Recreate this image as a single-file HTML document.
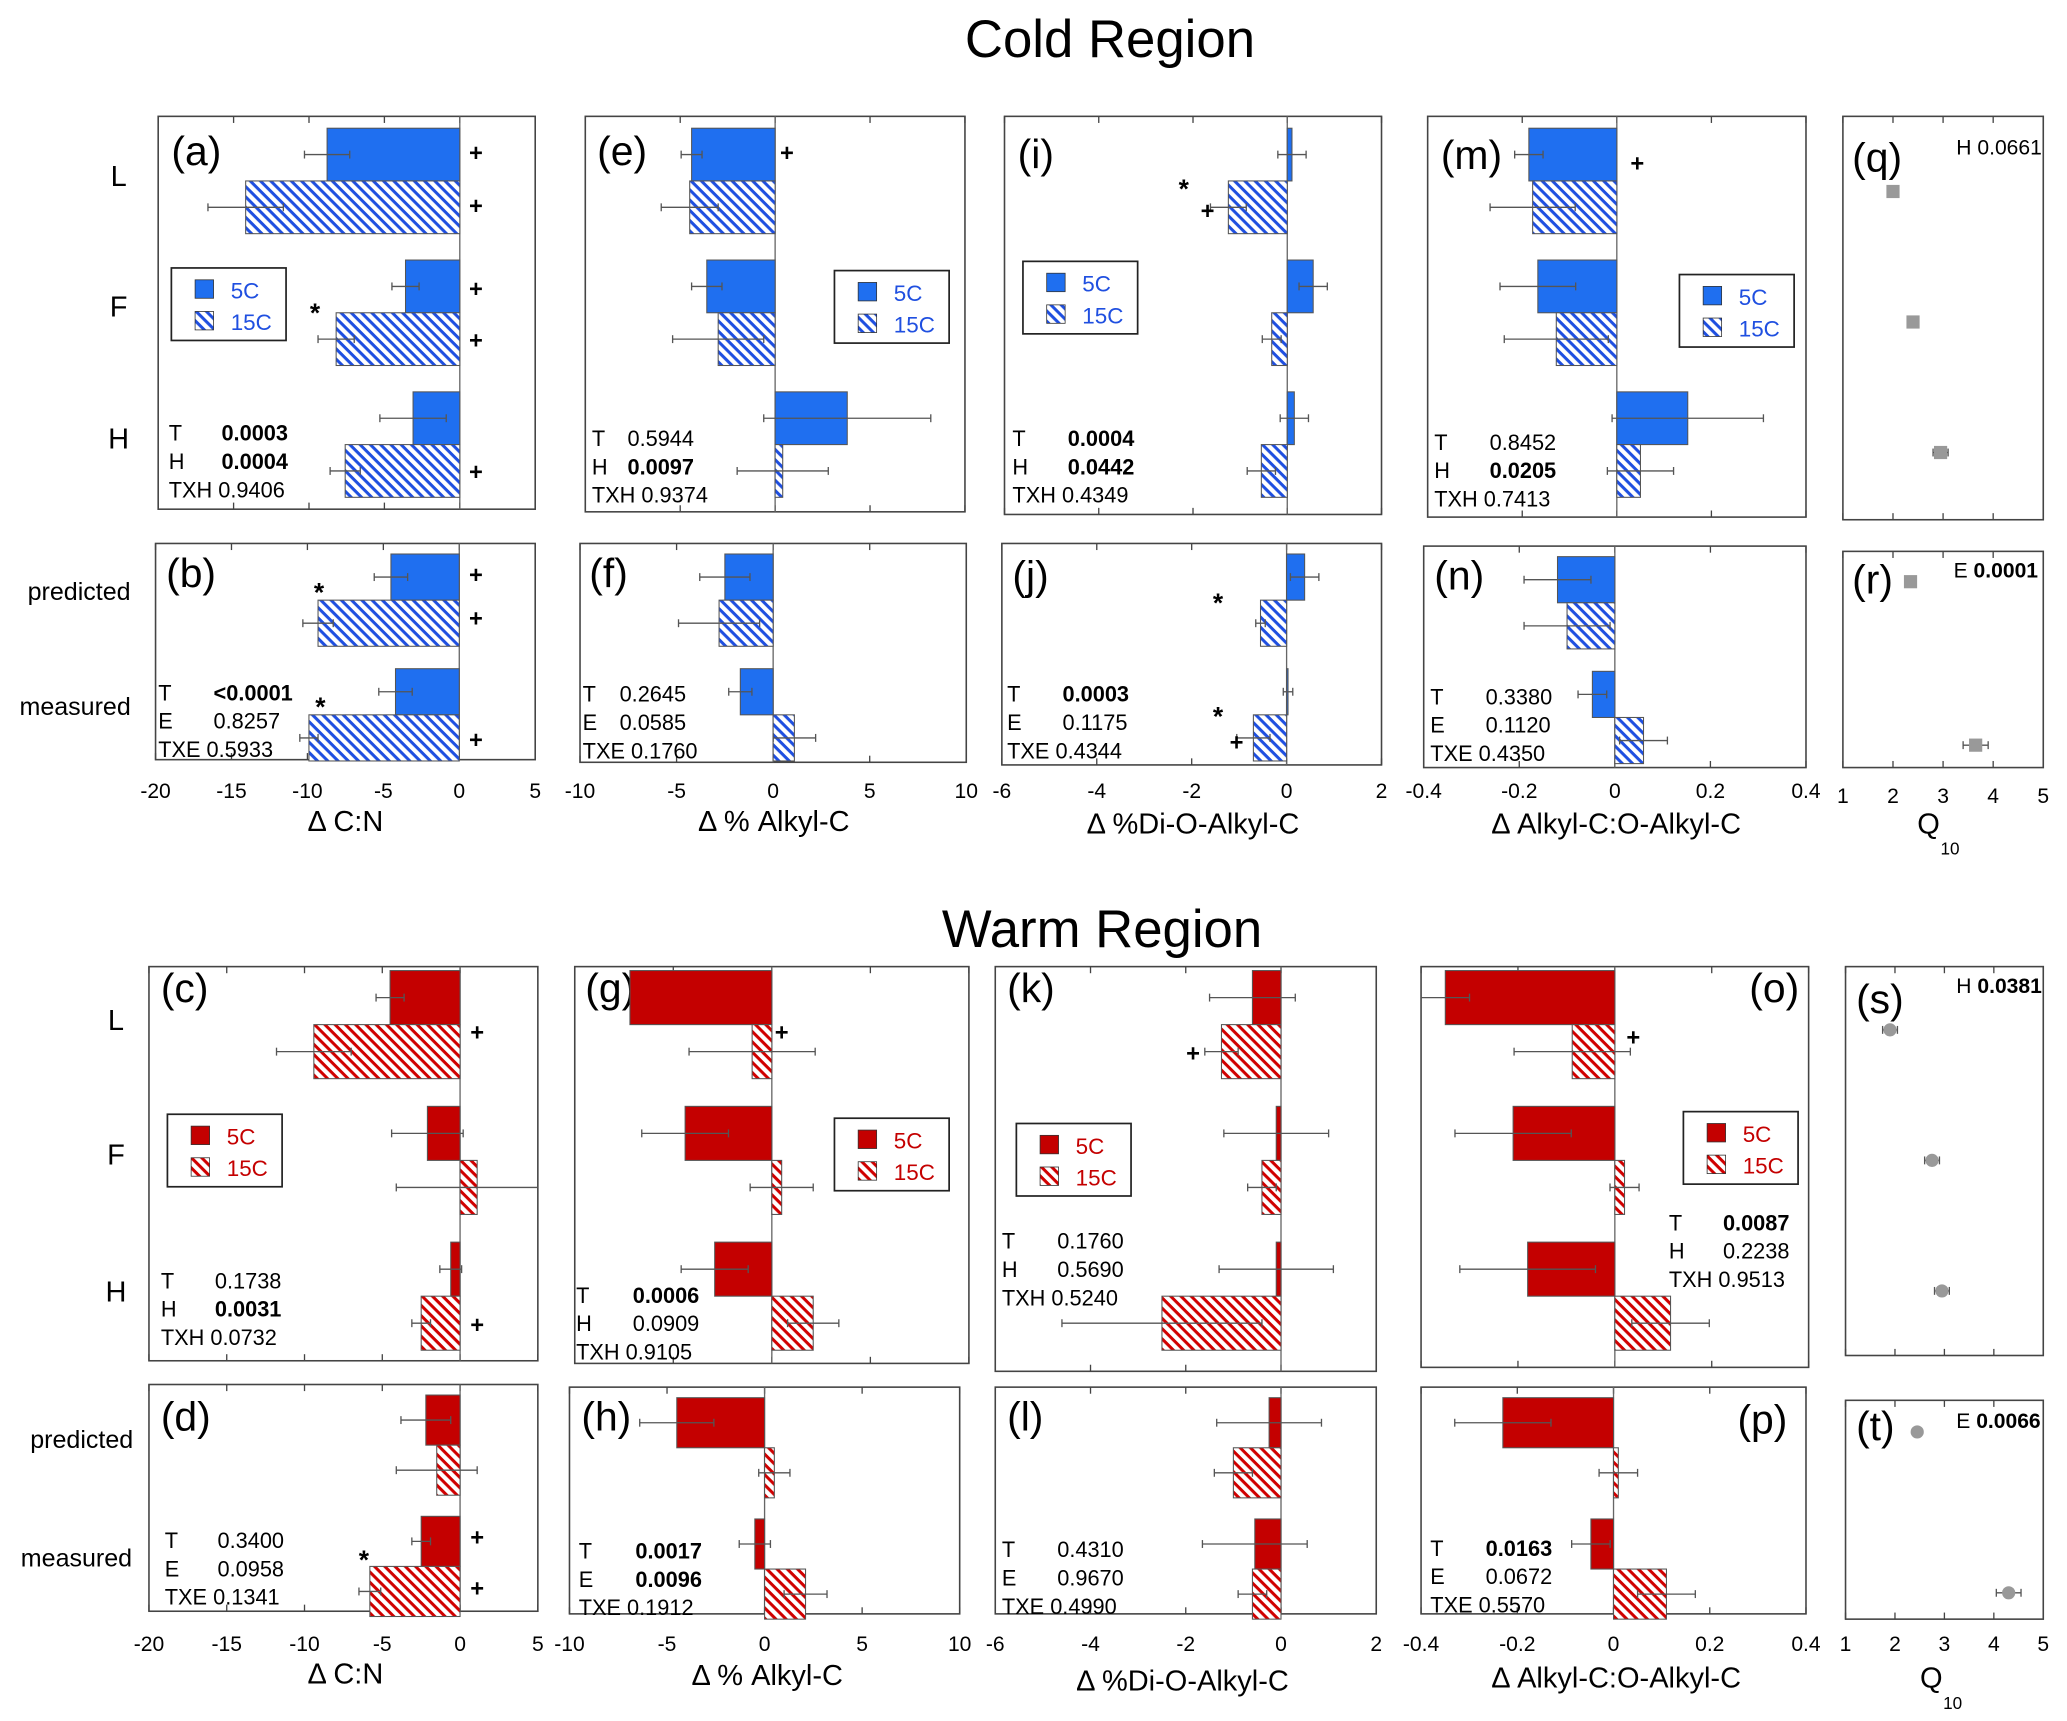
<!DOCTYPE html>
<html><head><meta charset="utf-8"><style>
html,body{margin:0;padding:0;background:#fff}
svg{display:block;font-family:"Liberation Sans",Arial,sans-serif}
</style></head><body>
<svg id="fig" xmlns="http://www.w3.org/2000/svg" width="2067" height="1721" viewBox="0 0 1568 1305">
<defs>
<pattern id="hb" patternUnits="userSpaceOnUse" width="5.5" height="5.5" patternTransform="rotate(45)"><rect width="5.5" height="5.5" fill="#fff"/><rect x="0" y="0" width="5.5" height="2.3" fill="#1f4fe0"/></pattern>
<pattern id="hr" patternUnits="userSpaceOnUse" width="5.5" height="5.5" patternTransform="rotate(45)"><rect width="5.5" height="5.5" fill="#fff"/><rect x="0" y="0" width="5.5" height="2.3" fill="#d00000"/></pattern>
</defs>
<text x="842" y="43" font-size="40" text-anchor="middle">Cold Region</text>
<text x="836" y="718" font-size="40" text-anchor="middle">Warm Region</text>
<g id="root"></g>
</svg>
<script>
// ---- data ----
const topCats = ["L","F","H"];
const botCats = ["predicted","measured"];
// cold
const a5 = [-8.8,-3.6,-3.1], a5e=[1.5,0.9,2.2], a15=[-14.2,-8.2,-7.6], a15e=[2.5,1.2,1.0];
const b5 = [-4.5,-4.2], b5e=[1.1,1.1], b15=[-9.3,-9.9], b15e=[1.0,0.6];
const e5 = [-4.4,-3.6,3.8], e5e=[0.55,0.8,4.4], e15=[-4.5,-3.0,0.4], e15e=[1.5,2.4,2.4];
const f5 = [-2.5,-1.7], f5e=[1.3,0.6], f15=[-2.8,1.1], f15e=[2.1,1.1];
const i5 = [0.1,0.55,0.15], i5e=[0.3,0.3,0.3], i15=[-1.25,-0.33,-0.55], i15e=[0.38,0.2,0.3];
const j5 = [0.38,0.03], j5e=[0.3,0.1], j15=[-0.55,-0.7], j15e=[0.1,0.35];
const m5 = [-0.186,-0.167,0.15], m5e=[0.03,0.08,0.16], m15=[-0.178,-0.128,0.05], m15e=[0.09,0.11,0.07];
const n5 = [-0.12,-0.047], n5e=[0.07,0.03], n15=[-0.1,0.06], n15e=[0.09,0.05];
const qVals=[2.0,2.4,2.95], qErr=[0.05,0.05,0.15];
const rVals=[2.35,3.65], rErr=[0.05,0.25];
// warm
const c5 = [-4.5,-2.1,-0.6], c5e=[0.9,2.3,0.7], c15=[-9.4,1.1,-2.5], c15e=[2.4,5.2,0.6];
const d5 = [-2.2,-2.5], d5e=[1.6,0.6], d15=[-1.5,-5.8], d15e=[2.6,0.7];
const g5 = [-7.2,-4.4,-2.9], g5e=[0,2.2,1.7], g15=[-1.0,0.5,2.1], g15e=[3.2,1.6,1.3];
const h5 = [-4.5,-0.5], h5e=[1.9,0.8], h15=[0.5,2.1], h15e=[0.8,1.1];
const k5 = [-0.6,-0.1,-0.1], k5e=[0.9,1.1,1.2], k15=[-1.25,-0.4,-2.5], k15e=[0.35,0.3,2.1];
const l5 = [-0.25,-0.55], l5e=[1.1,1.1], l15=[-1.0,-0.6], l15e=[0.4,0.3];
const o5 = [-0.35,-0.21,-0.18], o5e=[0.05,0.12,0.14], o15=[-0.088,0.02,0.115], o15e=[0.12,0.03,0.08];
const p5 = [-0.23,-0.047], p5e=[0.1,0.04], p15=[0.01,0.11], p15e=[0.04,0.06];
const sVals=[1.9,2.75,2.95], sErr=[0.15,0.15,0.15];
const tVals=[2.45,4.3], tErr=[0,0.25];
const ticksCN=[-20,-15,-10,-5,0,5], ticksAlk=[-10,-5,0,5,10], ticksDi=[-6,-4,-2,0,2], ticksRat=[-0.4,-0.2,0,0.2,0.4], ticksQ=[1,2,3,4,5];

const NS="http://www.w3.org/2000/svg";
const root=document.getElementById('root');
function mk(tag,attrs,parent){const e=document.createElementNS(NS,tag);for(const k in attrs)e.setAttribute(k,attrs[k]);(parent||root).appendChild(e);return e;}
function txt(s,x,y,size,opts,parent){opts=opts||{};const t=mk('text',{x:x,y:y,'font-size':size,fill:opts.fill||'#000','text-anchor':opts.anchor||'start','font-weight':opts.bold?'bold':'normal'},parent);t.textContent=s;return t;}

function panel(cfg){
  const g=mk('g',{});
  
  
  const L=cfg.box[0],R=cfg.box[1],T=cfg.box[2],B=cfg.box[3];
  const d0=cfg.dom[0],d1=cfg.dom[1];
  const xs=v=>L+(v-d0)/(d1-d0)*(R-L);
  const frame=mk('rect',{x:L,y:T,width:R-L,height:B-T,fill:'none',stroke:'#444','stroke-width':1.2},g);
  
  
  cfg.ticks.forEach(tv=>{const x=xs(tv);mk('line',{x1:x,x2:x,y1:T,y2:T+5,stroke:'#444'},g);mk('line',{x1:x,x2:x,y1:B,y2:B-5,stroke:'#444'},g);});
  if(!cfg.points) mk('line',{x1:xs(0),x2:xs(0),y1:T,y2:B,stroke:'#666','stroke-width':1},g);
  const lab=txt('('+cfg.id+')',cfg.lab[0],cfg.lab[1],31,{},g);
  
  
  const col=cfg.warm?'#c40000':'#1f6ff0', hat=cfg.warm?'url(#hr)':'url(#hb)';
  if(cfg.points){
    cfg.points.forEach((v,i)=>{
      const y=cfg.py[i],x=xs(v),e=cfg.perr[i];
      if(e>0){mk('line',{x1:xs(v-e),x2:xs(v+e),y1:y,y2:y,stroke:'#555'},g);[v-e,v+e].forEach(w=>mk('line',{x1:xs(w),x2:xs(w),y1:y-3,y2:y+3,stroke:'#555'},g));}
      let m;
      if(cfg.warm){m=mk('circle',{cx:x,cy:y,r:5,fill:'#999'},g);}
      else{m=mk('rect',{x:x-5,y:y-5,width:10,height:10,fill:'#999'},g);}
      
      
    });
  } else {
    const n=cfg.v5.length;
    for(let i=0;i<n;i++){
      [[cfg.v5,cfg.e5,col,0],[cfg.v15,cfg.e15,hat,1]].forEach(([vals,errs,fill,k])=>{
        const v=vals[i];const y=T+cfg.off+i*cfg.band+k*cfg.bh;
        const x0=Math.min(xs(0),xs(v)),w=Math.abs(xs(v)-xs(0));
        const r=mk('rect',{x:x0,y:y,width:w,height:cfg.bh,fill:fill,stroke:'#555','stroke-width':0.8},g);
        
        
        const e=errs[i];
        if(e>0){const cy=y+cfg.bh/2;const xa=Math.max(L,xs(v-e)),xb=Math.min(R,xs(v+e));
          mk('line',{x1:xa,x2:xb,y1:cy,y2:cy,stroke:'#555'},g);
          [v-e,v+e].forEach(w=>{const xx=xs(w);if(xx>=L&&xx<=R)mk('line',{x1:xx,x2:xx,y1:cy-3,y2:cy+3,stroke:'#555'},g);});}
      });
    }
  }
  if(cfg.tickLabels){cfg.ticks.forEach(tv=>{const t=txt(String(tv),xs(tv),cfg.tickY,16,{anchor:'middle'},g);});}
  if(cfg.stats){
    const s=cfg.stats;
    s.rows.forEach((r,i)=>{const y=s.y+i*21.5;
      if(i<2){txt(r[0],s.x,y,16.5,{},g);txt(r[1],s.vx,y,16.5,{bold:r[2]},g);}
      else txt(r[0]+' '+r[1],s.x,y,16.5,{},g);});
  }
  (cfg.ann||[]).forEach(a=>{const t=txt(a[0],a[1],a[2],a[0]=='*'?20:18,{anchor:'middle',bold:true},g);});
  if(cfg.leg){const [lx,ly]=cfg.leg;
    const lg=mk('g',{},g);
    
    
    mk('rect',{x:lx,y:ly,width:87,height:55,fill:'#fff',stroke:'#222','stroke-width':1.3},lg);
    mk('rect',{x:lx+18,y:ly+9,width:14,height:14,fill:col,stroke:'#333','stroke-width':0.6},lg);
    mk('rect',{x:lx+18,y:ly+33,width:14,height:14,fill:hat,stroke:'#333','stroke-width':0.6},lg);
    const tc=cfg.warm?'#c40000':'#1f4fe0';
    txt('5C',lx+45,ly+23,17,{fill:tc},lg);txt('15C',lx+45,ly+47,17,{fill:tc},lg);
  }
  if(cfg.qtext){const q=cfg.qtext;const t=mk('text',{x:q[0],y:q[1],'font-size':16},g);
    const s1=mk('tspan',{},t);s1.textContent=q[2]+' ';const s2=mk('tspan',{'font-weight':q[4]?'bold':'normal'},t);s2.textContent=q[3];}
}
const ct={off:9,band:100,bh:40,cats:topCats}, cb={off:8,band:87,bh:35,cats:botCats};
const wt={off:3,band:103,bh:41,cats:topCats,warm:true}, wb={off:8,band:92,bh:38,cats:botCats,warm:true};
function P(base,o){panel(Object.assign({},base,o));}
// cold
P(ct,{id:'a',box:[120,406,88,386],dom:[-20,5],ticks:ticksCN,lab:[130,125],v5:a5,e5:a5e,v15:a15,e15:a15e,leg:[130,203],
 stats:{x:128,vx:168,y:334,rows:[['T','0.0003',1],['H','0.0004',1],['TXH','0.9406']]},ann:[['+',361,122],['+',361,162],['+',361,225],['+',361,264],['+',361,364],['*',239,244]]});
P(cb,{id:'b',box:[118,406,412,576],dom:[-20,5],ticks:ticksCN,lab:[126,445],v5:b5,e5:b5e,v15:b15,e15:b15e,tickLabels:1,tickY:605,
 stats:{x:120,vx:162,y:531,rows:[['T','<0.0001',1],['E','0.8257'],['TXE','0.5933']]},ann:[['+',361,442],['+',361,475],['+',361,567],['*',242,456],['*',243,543]]});
P(ct,{id:'e',box:[444,732,88,388],dom:[-10,10],ticks:ticksAlk,lab:[453,125],v5:e5,e5:e5e,v15:e15,e15:e15e,leg:[633,205],
 stats:{x:449,vx:476,y:338,rows:[['T','0.5944'],['H','0.0097',1],['TXH','0.9374']]},ann:[['+',597,122]]});
P(cb,{id:'f',box:[440,733,412,578],dom:[-10,10],ticks:ticksAlk,lab:[447,445],v5:f5,e5:f5e,v15:f15,e15:f15e,tickLabels:1,tickY:605,
 stats:{x:442,vx:470,y:532,rows:[['T','0.2645'],['E','0.0585'],['TXE','0.1760']]}});
P(ct,{id:'i',box:[762,1048,88,390],dom:[-6,2],ticks:ticksDi,lab:[772,127],v5:i5,e5:i5e,v15:i15,e15:i15e,leg:[776,198],
 stats:{x:768,vx:810,y:338,rows:[['T','0.0004',1],['H','0.0442',1],['TXH','0.4349']]},ann:[['*',898,150],['+',916,166]]});
P(cb,{id:'j',box:[760,1048,412,580],dom:[-6,2],ticks:ticksDi,lab:[768,447],v5:j5,e5:j5e,v15:j15,e15:j15e,tickLabels:1,tickY:605,
 stats:{x:764,vx:806,y:532,rows:[['T','0.0003',1],['E','0.1175'],['TXE','0.4344']]},ann:[['*',924,464],['*',924,550],['+',938,569]]});
P(ct,{id:'m',box:[1083,1370,88,392],dom:[-0.4,0.4],ticks:ticksRat,lab:[1093,128],v5:m5,e5:m5e,v15:m15,e15:m15e,leg:[1274,208],
 stats:{x:1088,vx:1130,y:341,rows:[['T','0.8452'],['H','0.0205',1],['TXH','0.7413']]},ann:[['+',1242,130]]});
P(cb,{id:'n',box:[1080,1370,414,582],dom:[-0.4,0.4],ticks:ticksRat,lab:[1088,447],v5:n5,e5:n5e,v15:n15,e15:n15e,tickLabels:1,tickY:605,
 stats:{x:1085,vx:1127,y:534,rows:[['T','0.3380'],['E','0.1120'],['TXE','0.4350']]}});
P({},{id:'q',box:[1398,1550,88,394],dom:[1,5],ticks:ticksQ,lab:[1405,130],points:qVals,perr:qErr,py:[145,244,343],qtext:[1484,117,'H','0.0661',0]});
P({},{id:'r',box:[1398,1550,418,582],dom:[1,5],ticks:ticksQ,lab:[1405,450],points:rVals,perr:rErr,py:[441,565],qtext:[1482,438,'E','0.0001',1],tickLabels:1,tickY:609});
// warm
P(wt,{id:'c',box:[113,408,733,1032],dom:[-20,5],ticks:ticksCN,lab:[122,760],v5:c5,e5:c5e,v15:c15,e15:c15e,leg:[127,845],
 stats:{x:122,vx:163,y:977,rows:[['T','0.1738'],['H','0.0031',1],['TXH','0.0732']]},ann:[['+',362,789],['+',362,1011]]});
P(wb,{id:'d',box:[113,408,1050,1222],dom:[-20,5],ticks:ticksCN,lab:[122,1085],v5:d5,e5:d5e,v15:d15,e15:d15e,tickLabels:1,tickY:1252,
 stats:{x:125,vx:165,y:1174,rows:[['T','0.3400'],['E','0.0958'],['TXE','0.1341']]},ann:[['+',362,1172],['+',362,1211],['*',276,1190]]});
P(wt,{id:'g',box:[436,735,733,1034],dom:[-10,10],ticks:ticksAlk,lab:[444,760],v5:g5,e5:g5e,v15:g15,e15:g15e,leg:[633,848],
 stats:{x:437,vx:480,y:988,rows:[['T','0.0006',1],['H','0.0909'],['TXH','0.9105']]},ann:[['+',593,789]]});
P(wb,{id:'h',box:[432,728,1052,1224],dom:[-10,10],ticks:ticksAlk,lab:[441,1085],v5:h5,e5:h5e,v15:h15,e15:h15e,tickLabels:1,tickY:1252,
 stats:{x:439,vx:482,y:1182,rows:[['T','0.0017',1],['E','0.0096',1],['TXE','0.1912']]}});
P(wt,{id:'k',box:[755,1044,733,1040],dom:[-6,2],ticks:ticksDi,lab:[764,760],v5:k5,e5:k5e,v15:k15,e15:k15e,leg:[771,852],
 stats:{x:760,vx:802,y:947,rows:[['T','0.1760'],['H','0.5690'],['TXH','0.5240']]},ann:[['+',905,805]]});
P(wb,{id:'l',box:[755,1044,1052,1224],dom:[-6,2],ticks:ticksDi,lab:[764,1085],v5:l5,e5:l5e,v15:l15,e15:l15e,tickLabels:1,tickY:1252,
 stats:{x:760,vx:802,y:1181,rows:[['T','0.4310'],['E','0.9670'],['TXE','0.4990']]}});
P(wt,{id:'o',box:[1078,1372,733,1037],dom:[-0.4,0.4],ticks:ticksRat,lab:[1327,760],v5:o5,e5:o5e,v15:o15,e15:o15e,leg:[1277,843],
 stats:{x:1266,vx:1307,y:933,rows:[['T','0.0087',1],['H','0.2238'],['TXH','0.9513']]},ann:[['+',1239,793]]});
P(wb,{id:'p',box:[1078,1370,1052,1224],dom:[-0.4,0.4],ticks:ticksRat,lab:[1318,1087],v5:p5,e5:p5e,v15:p15,e15:p15e,tickLabels:1,tickY:1252,
 stats:{x:1085,vx:1127,y:1180,rows:[['T','0.0163',1],['E','0.0672'],['TXE','0.5570']]}});
P({warm:true},{id:'s',box:[1400,1550,733,1028],dom:[1,5],ticks:ticksQ,lab:[1408,768],points:sVals,perr:sErr,py:[781,880,979],qtext:[1484,753,'H','0.0381',1]});
P({warm:true},{id:'t',box:[1400,1550,1062,1228],dom:[1,5],ticks:ticksQ,lab:[1408,1092],points:tVals,perr:tErr,py:[1086,1208],qtext:[1484,1083,'E','0.0066',1],tickLabels:1,tickY:1252});
// row labels
[['L',90,141],['F',90,240],['H',90,340],['L',88,781],['F',88,883],['H',88,987]].forEach(r=>{const t=txt(r[0],r[1],r[2],22,{anchor:'middle'});});
[['predicted',60,455],['measured',57,542],['predicted',62,1098],['measured',58,1188]].forEach(r=>{const t=txt(r[0],r[1],r[2],19,{anchor:'middle'});});
// axis titles
[['\u0394 C:N',262,630],['\u0394 % Alkyl-C',587,630],['\u0394 %Di-O-Alkyl-C',905,632],['\u0394 Alkyl-C:O-Alkyl-C',1226,632],
 ['\u0394 C:N',262,1277],['\u0394 % Alkyl-C',582,1278],['\u0394 %Di-O-Alkyl-C',897,1282],['\u0394 Alkyl-C:O-Alkyl-C',1226,1280]].forEach(r=>{const t=txt(r[0],r[1],r[2],22,{anchor:'middle'});});
[[1463,632],[1465,1280]].forEach(p=>{const t=txt('Q',p[0],p[1],22,{anchor:'middle'});txt('10',p[0]+9,p[1]+16,13,{});});
</script>
</body></html>
